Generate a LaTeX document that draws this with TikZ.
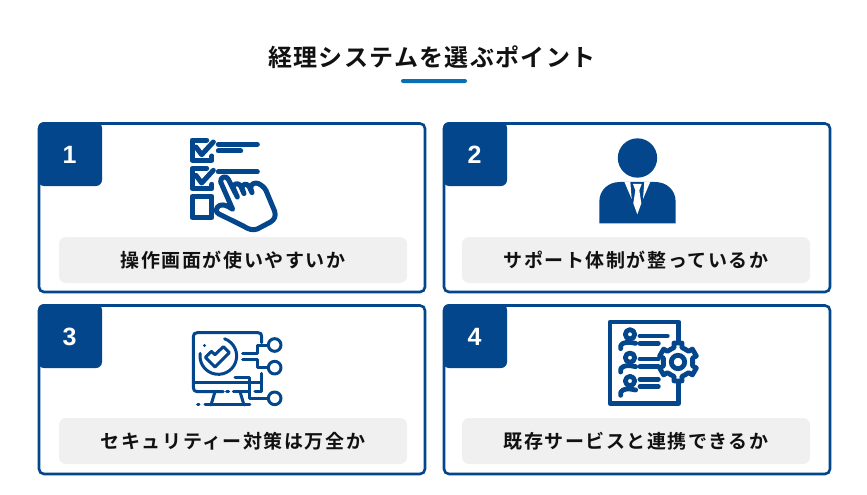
\documentclass[tikz,border=0pt]{standalone}
\usepackage{fontspec}
\setmainfont{Liberation Sans}
\newfontfamily\jpfont[BoldFont=* Bold]{Noto Sans CJK JP}
\definecolor{navy}{HTML}{03468C}
\definecolor{barcol}{HTML}{F0F0F0}
\definecolor{rulecol}{HTML}{0A6FB5}
\definecolor{ink}{HTML}{111111}
\tikzset{
  card/.style={draw=navy,line width=2.6pt,rounded corners=5pt,fill=white},
  tabbox/.style={fill=navy,rounded corners=6pt},
  bar/.style={fill=barcol,rounded corners=7pt,draw=none},
  numlabel/.style={text=white,font=\bfseries\fontsize{25}{25}\selectfont,anchor=center,inner sep=0pt},
  barlabel/.style={text=ink,font=\jpfont\bfseries\fontsize{19}{19}\selectfont\addfontfeature{LetterSpace=8},anchor=center,inner sep=0pt},
  titlelabel/.style={text=ink,font=\jpfont\bfseries\fontsize{24}{24}\selectfont\addfontfeature{LetterSpace=5.6},anchor=center,inner sep=0pt},
  ic/.style={draw=navy,line width=5pt,line cap=round,line join=round},
  icb/.style={draw=navy,line width=3pt,line cap=round,line join=round},
  icd/.style={draw=navy,line width=4.8pt,line cap=round,line join=round},
}
\begin{document}
\begin{tikzpicture}[x=1pt,y=-1pt]
\useasboundingbox (0,0) rectangle (867,495);
\fill[white] (0,0) rectangle (867,495);
% title
\node[titlelabel] (title) at (432,57) {経理システムを選ぶポイント};
\fill[rulecol,rounded corners=2pt] (401,79) rectangle (467,83);
% cards
\draw[card] (39,123.5) rectangle (425,292);
\draw[card] (444,123.5) rectangle (830,292);
\draw[card] (39,305.5) rectangle (425,474);
\draw[card] (444,305.5) rectangle (830,474);
% tabs
\fill[tabbox] (38,122) rectangle (102,186);
\fill[tabbox] (443,122) rectangle (507,186);
\fill[tabbox] (38,304) rectangle (102,368);
\fill[tabbox] (443,304) rectangle (507,368);
\node[numlabel] (n1) at (69.5,154.5) {1};
\node[numlabel] (n2) at (474.5,154.5) {2};
\node[numlabel] (n3) at (69.5,336.5) {3};
\node[numlabel] (n4) at (474.5,336.5) {4};
% bars
\fill[bar] (59,237) rectangle (407,283);
\fill[bar] (462,237) rectangle (810,283);
\fill[bar] (59,418) rectangle (407,464);
\fill[bar] (462,418) rectangle (810,464);
\node[barlabel] (b1) at (233,260) {操作画面が使いやすいか};
\node[barlabel] (b2) at (636,260) {サポート体制が整っているか};
\node[barlabel] (b3) at (233,441) {セキュリティー対策は万全か};
\node[barlabel] (b4) at (636,441) {既存サービスと連携できるか};
% icon 1
\begin{scope}[shift={(180,132)},x=0.3333pt,y=-0.3333pt]
\draw[ic] (80,24) -- (36,24) -- (36,85) -- (96,85) -- (96,72);
\draw[ic] (48,45) -- (65,68) -- (100,30);
\draw[ic] (115,37) -- (232,37);
\draw[ic] (115,57) -- (182,57);
\draw[ic] (80,109) -- (36,109) -- (36,170) -- (96,170) -- (96,157);
\draw[ic] (48,130) -- (65,153) -- (100,115);
\draw[ic] (115,120) -- (232,120);
\draw[ic] (36,194) rectangle (96,256);
\draw[ic] (122,150) .. controls (120,135) and (138,128) .. (145,142)
  -- (172,195) -- (160,168) .. controls (158,155) and (175,150) .. (182,162)
  -- (192,185) -- (186,168) .. controls (186,155) and (202,152) .. (208,165)
  -- (216,182) -- (212,168) .. controls (212,155) and (226,150) .. (236,155)
  .. controls (250,162) and (258,172) .. (262,185)
  -- (284,238) .. controls (288,252) and (284,262) .. (272,270)
  -- (232,291) .. controls (218,296) and (205,292) .. (190,282)
  -- (125,250) .. controls (112,245) and (104,238) .. (112,226)
  .. controls (120,215) and (135,216) .. (158,232) -- cycle;
\end{scope}
% icon 2
\begin{scope}[shift={(440,115)},x=0.3333pt,y=-0.3333pt]
\fill[navy] (592.5,129) circle[radius=59];
\fill[navy] (478,325) -- (478,260) .. controls (478,225) and (505,201) .. (540,201) -- (645,201) .. controls (680,201) and (707,225) .. (707,260) -- (707,325) -- cycle;
\fill[white] (553,200) -- (571,200) -- (575,252) -- cycle;
\fill[white] (631,200) -- (613,200) -- (609,252) -- cycle;
\fill[white] (579,207) -- (605,207) -- (598,226) -- (604,265) -- (592,298) -- (580,265) -- (586,226) -- cycle;
\end{scope}
% icon 3
\begin{scope}[shift={(170,320)},x=0.3333pt,y=-0.3333pt]
\draw[icb] (275,68) -- (275,50) .. controls (275,42) and (272,38) .. (264,38) -- (82,38) .. controls (74,38) and (70,42) .. (70,50) -- (70,203) .. controls (70,211) and (74,215) .. (82,215) -- (160,215);
\draw[icb] (170,215) -- (176,215);
\draw[icb] (190,215) -- (235,215);
\draw[icb] (255,215) -- (275,215) -- (275,160);
\draw[icb] (70,188) -- (275,188);
\draw[icb] (135,215) -- (123,255);
\draw[icb] (210,215) -- (222,255);
\draw[icb] (105,255) -- (240,255);
\draw[icb] (83,255) -- (87,255);
\draw[icb] (163.8,56.3) arc[start angle=-70,end angle=188,radius=55];
\draw[icb] (103,77) -- (104,77);
\draw[icb] (106,112) -- (135,141) -- (178,98) -- (160,80) -- (135,104) -- (124,94) -- cycle;
\draw[icb] (218,100) -- (262,100) -- (262,75) -- (295,75);
\draw[icb] (218,120) -- (262,120) -- (262,143) -- (295,143);
\draw[icb] (195,172) -- (240,172) -- (240,235) -- (295,235);
\draw[icb] (314,75) circle[radius=19];
\draw[icb] (314,143) circle[radius=19];
\draw[icb] (314,235) circle[radius=19];
\end{scope}
% icon 4
\begin{scope}[shift={(590,310)},x=0.3333pt,y=-0.3333pt]
\draw[icd] (266,90) -- (266,36) -- (60,36) -- (60,280) -- (266,280) -- (266,215);
\foreach \yy in {0,70,140}{
  \begin{scope}[shift={(0,\yy)}]
  \draw[icd] (120,73) circle[radius=14];
  \draw[icd] (92,116) .. controls (88,100) and (105,96) .. (120,97) -- (137,100);
  \end{scope}
}
\draw[icd] (150,78) -- (232,78);
\draw[icd] (150,100) -- (205,100);
\draw[icd] (150,147) -- (205,147);
\draw[icd] (150,170) -- (205,170);
\draw[icd] (150,208) -- (205,208);
\draw[icd] (150,230) -- (205,230);
\begin{scope}[shift={(264,156)}]
\fill[white] (0,0) circle[radius=45];
\draw[draw=navy,line width=4.8pt] (0,0) circle[radius=20];
\foreach \a in {30,90,...,330}{
  \draw[icd] (\a-30:44) -- (\a-15:45) -- (\a-12:58) -- (\a+12:58) -- (\a+15:45) -- (\a+30:44);
}
\end{scope}
\end{scope}
\end{tikzpicture}
\end{document}
